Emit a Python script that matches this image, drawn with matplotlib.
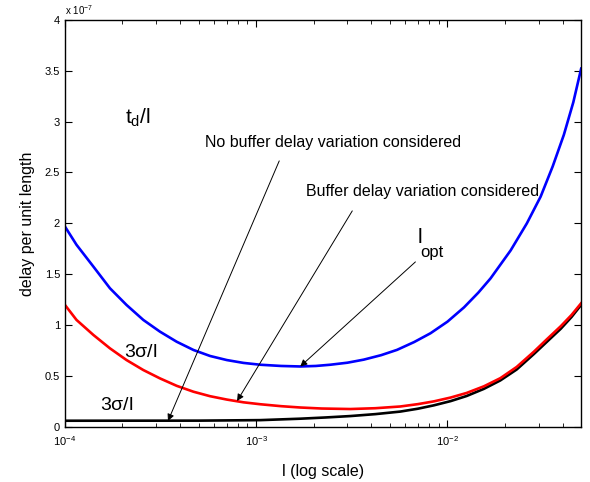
import numpy as np
import matplotlib.pyplot as plt
from matplotlib.ticker import FixedLocator, LogLocator, FuncFormatter, NullFormatter

plt.rcParams['font.family'] = ['Liberation Sans', 'DejaVu Sans']
plt.rcParams['mathtext.fontset'] = 'custom'
plt.rcParams['mathtext.rm'] = 'Liberation Sans'
plt.rcParams['mathtext.it'] = 'Liberation Sans'
plt.rcParams['mathtext.default'] = 'rm'

# wire length l, delay per unit length in units of 1e-7
l_td = [1.00e-4, 1.15e-4, 1.41e-4, 1.72e-4, 2.10e-4, 2.57e-4, 3.14e-4, 3.84e-4,
        4.70e-4, 5.74e-4, 7.02e-4, 8.58e-4, 1.05e-3, 1.35e-3, 1.70e-3, 2.05e-3,
        2.44e-3, 3.00e-3, 3.65e-3, 4.50e-3, 5.45e-3, 6.70e-3, 8.15e-3, 1.00e-2,
        1.22e-2, 1.45e-2, 1.68e-2, 2.14e-2, 2.60e-2, 3.07e-2, 3.55e-2, 4.06e-2,
        4.55e-2, 5.00e-2]
td_per_l = [1.97, 1.79, 1.575, 1.363, 1.199, 1.052, 0.937, 0.838,
            0.757, 0.698, 0.658, 0.630, 0.612, 0.600, 0.595, 0.600,
            0.612, 0.632, 0.662, 0.706, 0.758, 0.835, 0.921, 1.035,
            1.175, 1.320, 1.460, 1.735, 2.000, 2.263, 2.560, 2.870,
            3.190, 3.520]

l_sig = [1.00e-4, 1.15e-4, 1.41e-4, 1.72e-4, 2.10e-4, 2.57e-4, 3.14e-4, 3.84e-4,
         4.70e-4, 5.74e-4, 7.02e-4, 8.58e-4, 1.05e-3, 1.35e-3, 1.70e-3, 2.20e-3,
         3.11e-3, 4.20e-3, 5.67e-3, 7.00e-3, 8.48e-3, 1.04e-2, 1.26e-2, 1.55e-2,
         1.89e-2, 2.30e-2, 2.83e-2, 3.30e-2, 3.91e-2, 4.45e-2, 5.00e-2]
sig_buf = [1.20, 1.052, 0.904, 0.773, 0.658, 0.560, 0.478, 0.405,
           0.347, 0.303, 0.270, 0.243, 0.224, 0.205, 0.192, 0.182,
           0.177, 0.185, 0.202, 0.225, 0.252, 0.290, 0.335, 0.400,
           0.480, 0.590, 0.740, 0.860, 0.990, 1.100, 1.216]

l_nobuf = [1.00e-4, 5.00e-4, 1.05e-3, 1.70e-3, 2.30e-3, 3.11e-3, 4.20e-3, 5.67e-3,
           7.00e-3, 8.48e-3, 1.04e-2, 1.26e-2, 1.55e-2, 1.89e-2, 2.30e-2, 2.83e-2,
           3.30e-2, 3.91e-2, 4.45e-2, 5.00e-2]
sig_nobuf = [0.062, 0.063, 0.068, 0.082, 0.094, 0.108, 0.127, 0.152,
             0.180, 0.213, 0.255, 0.305, 0.375, 0.458, 0.565, 0.717,
             0.835, 0.965, 1.080, 1.200]

fig = plt.figure(figsize=(5.9, 4.82), dpi=100)
ax = fig.add_axes([0.110, 0.114, 0.875, 0.845])

ax.plot(l_nobuf, sig_nobuf, color='k', lw=1.9)
ax.plot(l_sig, sig_buf, color='#ff0000', lw=1.9)
ax.plot(l_td, td_per_l, color='#0000ff', lw=1.9)

ax.set_xscale('log')
ax.set_xlim(1e-4, 5e-2)
ax.set_ylim(0, 4)
ax.yaxis.set_major_locator(FixedLocator(np.arange(0, 4.01, 0.5)))
ax.yaxis.set_major_formatter(FuncFormatter(lambda v, p: '%g' % v))
ax.xaxis.set_major_locator(FixedLocator([1e-4, 1e-3, 1e-2]))
ax.xaxis.set_minor_locator(LogLocator(base=10, subs=np.arange(2, 10)))
ax.xaxis.set_minor_formatter(NullFormatter())
ax.tick_params(which='both', direction='in', top=True, right=True, labelsize=8)
ax.tick_params(which='major', length=5, width=0.8)
ax.tick_params(which='minor', length=3, width=0.6)
ax.tick_params(axis='x', which='major', pad=5)
for s in ax.spines.values():
    s.set_linewidth(1.0)

ax.text(0.0, 1.006, r'x 10$^{-7}$', transform=ax.transAxes, fontsize=7, ha='left', va='bottom')
ax.set_xlabel('l (log scale)', fontsize=11.5, labelpad=12)
ax.set_ylabel('delay per unit length', fontsize=11.5, labelpad=7)

ax.text(2.06e-4, 3.04, r'$\mathrm{t}_\mathrm{d}$/l', fontsize=15, ha='left', va='center')
ax.text(2.04e-4, 0.737, r'3$\sigma$/l', fontsize=14, ha='left', va='center')
ax.text(1.52e-4, 0.216, r'3$\sigma$/l', fontsize=14, ha='left', va='center')
ax.text(6.97e-3, 1.86, 'l', fontsize=15, ha='left', va='center')
ax.text(7.25e-3, 1.71, 'opt', fontsize=12, ha='left', va='center')
ax.text(5.41e-4, 2.79, 'No buffer delay variation considered', fontsize=11.5, ha='left', va='center')
ax.text(1.83e-3, 2.31, 'Buffer delay variation considered', fontsize=11.5, ha='left', va='center')

arrow = dict(arrowstyle='-|>', color='k', lw=0.7, mutation_scale=10, shrinkA=0, shrinkB=0)
ax.annotate('', xy=(3.46e-4, 0.06), xytext=(1.32e-3, 2.614), arrowprops=arrow)
ax.annotate('', xy=(7.95e-4, 0.256), xytext=(3.18e-3, 2.123), arrowprops=arrow)
ax.annotate('', xy=(1.70e-3, 0.595), xytext=(6.80e-3, 1.622), arrowprops=arrow)

fig.savefig('out.png', dpi=100)
